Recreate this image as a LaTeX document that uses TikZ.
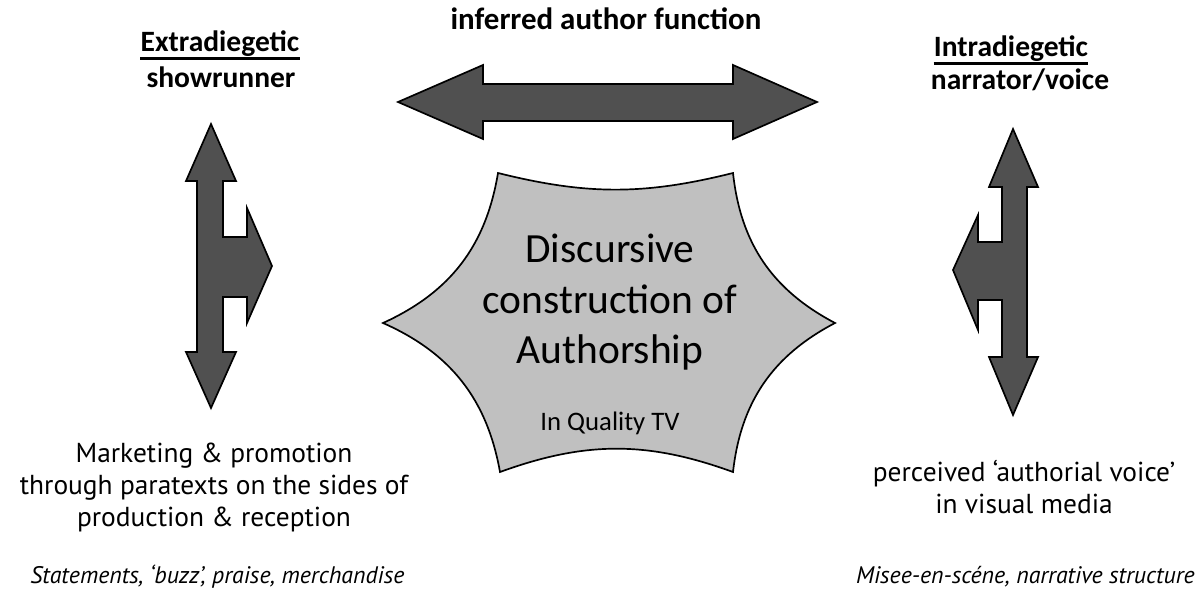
\documentclass[tikz,border=0pt]{standalone}
\usepackage{fontspec}
\setmainfont{Carlito}
\newfontfamily\bodyfont{PT Sans}
\definecolor{arrowgray}{HTML}{505050}
\definecolor{stargray}{HTML}{C0C0C0}
\tikzset{
  bigarrow/.style={fill=arrowgray, draw=black, line width=1.2pt, line join=miter},
  heading/.style={font=\bfseries\fontsize{21}{24}\selectfont, inner sep=0pt, anchor=base},
  body/.style={font=\bodyfont\fontsize{19.5}{22}\selectfont, inner sep=0pt, anchor=base},
  note/.style={font=\bodyfont\itshape\fontsize{17}{19}\selectfont, inner sep=0pt, anchor=base}
}
\begin{document}
\begin{tikzpicture}[x=0.025cm, y=-0.025cm, line cap=round]
\useasboundingbox (0,0) rectangle (1200,590);

% headings
\node[heading, font=\bfseries\fontsize{22}{24}\selectfont] (top) at (606,30) {inferred author function};
\node[heading] (extra) at (220,52) {Extradiegetic};
\node[heading] (show) at (221,88) {showrunner};
\node[heading] (intra) at (1011,57) {Intradiegetic};
\node[heading] (narr) at (1020,90) {narrator/voice};
\draw[line width=1.8pt, line cap=butt] ([yshift=-4.5pt]extra.base west) -- ([yshift=-4.5pt]extra.base east);
\draw[line width=1.8pt, line cap=butt] ([yshift=-4.5pt]intra.base west) -- ([yshift=-4.5pt]intra.base east);

% arrows
\draw[bigarrow] (398,102) -- (483,65) -- (483,84) -- (733,84) -- (733,65) -- (817,102)
  -- (733,139) -- (733,121) -- (483,121) -- (483,139) -- cycle;
\draw[bigarrow] (211,124) -- (236,181) -- (223,181) -- (223,237) -- (247,237) -- (247,208)
  -- (272,266) -- (247,323) -- (247,297) -- (223,297) -- (223,352) -- (236,352) -- (211,408)
  -- (186,352) -- (197,352) -- (197,181) -- (186,181) -- cycle;
\draw[bigarrow] (1013,129) -- (1038,187) -- (1027,187) -- (1027,357) -- (1038,357) -- (1013,415)
  -- (989,357) -- (1002,357) -- (1002,300) -- (978,300) -- (978,330) -- (953,270) -- (978,215)
  -- (978,242) -- (1002,242) -- (1002,187) -- (989,187) -- cycle;

% six pointed star
\coordinate (r) at (835,323);
\coordinate (tr) at (733,173);
\coordinate (tl) at (498,173);
\coordinate (l) at (383,323);
\coordinate (bl) at (500,472);
\coordinate (br) at (733,472);
\draw[fill=stargray, line width=1.2pt] (r) to[bend left=28] (tr) to[bend left=14] (tl)
  to[bend left=28] (l) to[bend left=28] (bl) to[bend left=20] (br) to[bend left=28] cycle;
\node[font=\fontsize{29.5}{34}\selectfont, inner sep=0pt, anchor=base] (disc1) at (610,262) {Discursive};
\node[font=\fontsize{29.5}{34}\selectfont, inner sep=0pt, anchor=base] (disc2) at (610,313) {construction of};
\node[font=\fontsize{29.5}{34}\selectfont, inner sep=0pt, anchor=base] (disc3) at (610,363) {Authorship};
\node[font=\fontsize{19}{22}\selectfont, inner sep=0pt, anchor=base] (qtv) at (610,430) {In Quality TV};

% bottom texts
\node[body] (mark1) at (214,462) {Marketing \& promotion};
\node[body] (mark2) at (214,494) {through paratexts on the sides of};
\node[body] (mark3) at (214,526) {production \& reception};
\node[body] (perc1) at (1024,481) {perceived ‘authorial voice’};
\node[body] (perc2) at (1024,513) {in visual media};
\node[note, anchor=base west] (stat) at (30,583) {Statements, ‘buzz’, praise, merchandise};
\node[note, anchor=base east] (mise) at (1195,583) {Misee-en-scéne, narrative structure};
\end{tikzpicture}
\end{document}
